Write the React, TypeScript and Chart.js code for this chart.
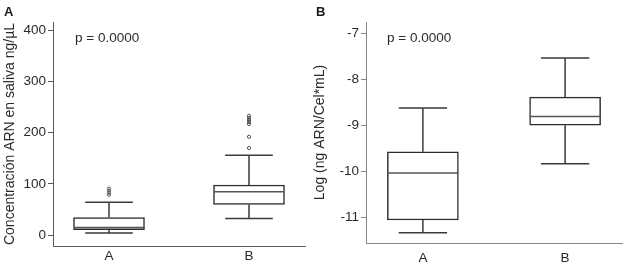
import React, { useEffect, useRef } from "react";
import { Chart, registerables } from "chart.js";

Chart.register(...registerables);

// ---------- data ----------
const categories = ["A", "B"];
const catX = [1, 2];

// Panel A: concentración ARN en saliva (ng/µL)
const concLow = [4.5, 32.5];
const concQ1 = [11, 60];
const concMedian = [15, 85];
const concQ3 = [34.5, 98];
const concHigh = [64.5, 156];
const concOutliersA = [79, 83, 87, 91];
const concOutliersB = [170, 192, 217, 221, 225, 229, 233];
const concTicks = [0, 100, 200, 300, 400];

// Panel B: Log (ng ARN/Cel*mL)
const logLow = [-11.33, -9.83];
const logQ1 = [-11.05, -8.99];
const logMedian = [-10.03, -8.8];
const logQ3 = [-9.57, -8.38];
const logHigh = [-8.62, -7.53];
const logTicks = [-11, -10, -9, -8, -7];

const FONT = "'Liberation Sans', Arial, Helvetica, sans-serif";
const TEXT = "#2a2a2a";

type BoxSpec = {
  low: number[];
  q1: number[];
  median: number[];
  q3: number[];
  high: number[];
  outliers: number[][];
  ticks: number[];
  yMin: number;
  yMax: number;
  title: string;
  axisWidth: number;
  axisHeight: number;
  padRight: number;
  xPad: number;
  axisColor: string;
};

const whiskerPlugin = {
  id: "whiskers",
  afterDatasetsDraw(chart: any, _args: any, opts: any) {
    const spec: BoxSpec = opts.spec;
    if (!spec) return;
    const xs = chart.scales.x;
    const ys = chart.scales.y;
    const ctx = chart.ctx;
    ctx.save();
    ctx.lineCap = "butt";
    const boxHalf = xs.getPixelForValue(1.25) - xs.getPixelForValue(1);
    const capHalf = xs.getPixelForValue(1.17) - xs.getPixelForValue(1);
    catX.forEach((cx, i) => {
      const px = xs.getPixelForValue(cx);
      const yLow = ys.getPixelForValue(spec.low[i]);
      const yQ1 = ys.getPixelForValue(spec.q1[i]);
      const yMed = ys.getPixelForValue(spec.median[i]);
      const yQ3 = ys.getPixelForValue(spec.q3[i]);
      const yHigh = ys.getPixelForValue(spec.high[i]);
      ctx.strokeStyle = "#3a3a3a";
      ctx.lineWidth = 1.5;
      ctx.beginPath();
      ctx.moveTo(px, yQ3);
      ctx.lineTo(px, yHigh);
      ctx.moveTo(px - capHalf, yHigh);
      ctx.lineTo(px + capHalf, yHigh);
      ctx.moveTo(px, yQ1);
      ctx.lineTo(px, yLow);
      ctx.moveTo(px - capHalf, yLow);
      ctx.lineTo(px + capHalf, yLow);
      ctx.stroke();
      ctx.strokeStyle = "#555555";
      ctx.beginPath();
      ctx.moveTo(px - boxHalf, yMed);
      ctx.lineTo(px + boxHalf, yMed);
      ctx.stroke();
    });
    ctx.restore();
  },
};

function BoxChart({ spec, left, width }: { spec: BoxSpec; left: number; width: number }) {
  const ref = useRef<HTMLCanvasElement>(null);
  useEffect(() => {
    if (!ref.current) return;
    const boxData = catX.map((x, i) => ({ x, y: [spec.q1[i], spec.q3[i]] }));
    const outlierData: { x: number; y: number }[] = [];
    spec.outliers.forEach((arr, i) => arr.forEach((v) => outlierData.push({ x: catX[i], y: v })));
    const chart = new Chart(ref.current, {
      type: "bar",
      data: {
        datasets: [
          {
            type: "bar",
            data: boxData as any,
            backgroundColor: "#ffffff",
            borderColor: "#2e2e2e",
            borderWidth: 1.5,
            borderSkipped: false,
            barThickness: 71,
          } as any,
          {
            type: "scatter",
            data: outlierData,
            pointRadius: 1.6,
            pointBorderWidth: 1,
            pointBackgroundColor: "rgba(255,255,255,0)",
            pointBorderColor: "#555555",
          } as any,
        ],
      },
      options: {
        responsive: false,
        animation: false,
        layout: { padding: { top: 22, right: spec.padRight, left: 0, bottom: 0 } },
        plugins: {
          legend: { display: false },
          tooltip: { enabled: false },
          whiskers: { spec },
        } as any,
        scales: {
          x: {
            type: "linear",
            min: 0.6,
            max: 2.4,
            offset: false,
            afterBuildTicks: (s: any) => {
              s.ticks = catX.map((v) => ({ value: v }));
            },
            afterFit: (s: any) => {
              s.height = spec.axisHeight;
            },
            grid: { display: false, drawTicks: false, tickLength: 0, offset: false },
            border: { display: true, color: spec.axisColor, width: 1 },
            ticks: {
              padding: spec.xPad,
              color: TEXT,
              font: { family: FONT, size: 13.5 },
              callback: (v: any) => categories[catX.indexOf(Number(v))] ?? "",
            },
          },
          y: {
            type: "linear",
            min: spec.yMin,
            max: spec.yMax,
            afterBuildTicks: (s: any) => {
              s.ticks = spec.ticks.map((v) => ({ value: v }));
            },
            afterFit: (s: any) => {
              s.width = spec.axisWidth;
            },
            grid: {
              display: true,
              drawOnChartArea: false,
              drawTicks: true,
              tickLength: 5,
              color: spec.axisColor,
            },
            border: { display: true, color: spec.axisColor, width: 1 },
            ticks: {
              padding: 2,
              color: TEXT,
              font: { family: FONT, size: 13.5 },
            },
            title: {
              display: true,
              text: spec.title,
              color: TEXT,
              font: { family: FONT, size: 14 },
              padding: { top: 2, bottom: 2 },
            },
          },
        },
      },
      plugins: [whiskerPlugin],
    });
    return () => chart.destroy();
  }, [spec]);
  return (
    <canvas
      ref={ref}
      width={width}
      height={270}
      style={{ position: "absolute", left, top: 0, width, height: 270 }}
    />
  );
}

const specA: BoxSpec = {
  low: concLow,
  q1: concQ1,
  median: concMedian,
  q3: concQ3,
  high: concHigh,
  outliers: [concOutliersA, concOutliersB],
  ticks: concTicks,
  yMin: -21,
  yMax: 416,
  title: "Concentración ARN en saliva ng/µL",
  axisWidth: 53,
  axisHeight: 24,
  padRight: 3,
  xPad: 2,
  axisColor: "#5a5a5a",
};

const specB: BoxSpec = {
  low: logLow,
  q1: logQ1,
  median: logMedian,
  q3: logQ3,
  high: logHigh,
  outliers: [[], []],
  ticks: logTicks,
  yMin: -11.55,
  yMax: -6.75,
  title: "Log (ng ARN/Cel*mL)",
  axisWidth: 56,
  axisHeight: 27,
  padRight: 2,
  xPad: 7,
  axisColor: "#888888",
};

const labelStyle: React.CSSProperties = {
  position: "absolute",
  top: 4,
  fontFamily: FONT,
  fontWeight: "bold",
  fontSize: 13,
  color: "#1a1a1a",
  lineHeight: "16px",
};

const pStyle: React.CSSProperties = {
  position: "absolute",
  top: 30,
  fontFamily: FONT,
  fontSize: 13.5,
  color: TEXT,
  lineHeight: "16px",
  whiteSpace: "pre",
};

export default function App() {
  useEffect(() => {
    document.body.style.margin = "0";
  }, []);
  return (
    <div style={{ position: "absolute", left: 0, top: 0, width: 624, height: 270, background: "#fff", overflow: "hidden" }}>
      <BoxChart spec={specA} left={0} width={310} />
      <BoxChart spec={specB} left={310} width={314} />
      <div style={{ ...labelStyle, left: 4 }}>A</div>
      <div style={{ ...labelStyle, left: 316 }}>B</div>
      <div style={{ ...pStyle, left: 75 }}>p = 0.0000</div>
      <div style={{ ...pStyle, left: 387 }}>p = 0.0000</div>
    </div>
  );
}
